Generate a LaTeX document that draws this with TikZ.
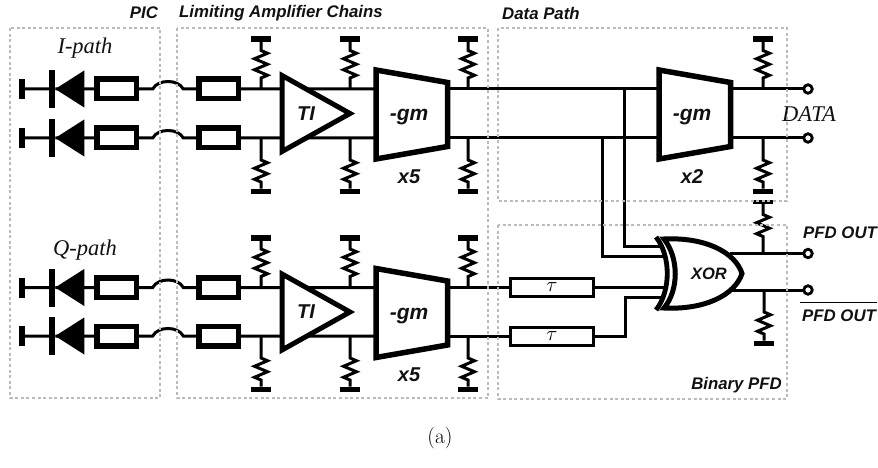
\documentclass[tikz,border=0pt]{standalone}
\usepackage{fontspec}
\usepackage{xcolor}
\usetikzlibrary{positioning,decorations.pathmorphing}
\newfontfamily\labelfont{Liberation Sans}
\newfontfamily\pathfont{Liberation Serif}
\definecolor{ZoneGray}{HTML}{BBBBBB}
\definecolor{TextBlack}{HTML}{111111}
\newcommand{\resup}[1]{%
  \node[railh, above=47pt of #1] (r#1) {};
  \draw[wire, resupz] (r#1) -- (#1);}
\newcommand{\resdn}[1]{%
  \node[railh, below=50.5pt of #1] (r#1) {};
  \draw[wire, resdnz] (r#1) -- (#1);}
\newcommand{\gmamp}[3]{%
  \draw[amp] (#1,#2) ++(0,-44.5) -- ++(71.5,12.5) -- ++(0,64) -- ++(-71.5,12.5) -- cycle;
  \node[gmtext] (#3) at ([shift={(33pt,-3pt)}]#1,#2) {-gm};}

\begin{document}
\begin{tikzpicture}[x=1pt, y=-1pt]
  \tikzstyle{wire} = [line width=3pt, draw=black]
  \tikzstyle{railv} = [rectangle, fill=black, inner sep=0pt, outer sep=0pt, minimum width=5.5pt, minimum height=20pt]
  \tikzstyle{railh} = [rectangle, fill=black, inner sep=0pt, outer sep=0pt, minimum width=20pt, minimum height=5.5pt]
  \tikzstyle{diobar} = [rectangle, fill=black, inner sep=0pt, outer sep=0pt, minimum width=6pt, minimum height=38pt]
  \tikzstyle{lens} = [rectangle, draw=black, fill=white, line width=5.5pt, inner sep=0pt, outer sep=0pt, minimum width=39.5pt, minimum height=19.5pt]
  \tikzstyle{delay} = [rectangle, draw=black, fill=white, line width=3pt, inner sep=0pt, outer sep=0pt, minimum width=83pt, minimum height=18pt, font=\fontsize{20.74}{20.74}\selectfont]
  \tikzstyle{port} = [circle, draw=black, fill=white, line width=2.8pt, inner sep=0pt, outer sep=0pt, minimum size=8.5pt]
  \tikzstyle{amp} = [draw=black, fill=white, line width=5.5pt]
  \tikzstyle{resupz} = [decorate, decoration={zigzag, segment length=11pt, amplitude=6.5pt, pre length=8.5pt, post length=11pt}]
  \tikzstyle{resdnz} = [decorate, decoration={zigzag, segment length=11pt, amplitude=6.5pt, pre length=6.5pt, post length=17pt}]
  \tikzstyle{zone} = [draw=ZoneGray, line width=1.3pt, dash pattern=on 3pt off 2.6pt]
  \tikzstyle{tag} = [inner sep=0pt, text=TextBlack, font=\labelfont\bfseries\itshape\fontsize{16.8}{16.8}\selectfont]
  \tikzstyle{gmtext} = [tag, font=\labelfont\bfseries\itshape\fontsize{21}{21}\selectfont]
  \tikzstyle{multext} = [tag, font=\labelfont\bfseries\itshape\fontsize{20}{20}\selectfont]
  \tikzstyle{pathtag} = [inner sep=0pt, text=TextBlack, font=\pathfont\itshape\fontsize{22.5}{22.5}\selectfont]

  \useasboundingbox (0,0) rectangle (878,468);

  \foreach \n/\y in {ia/89, ib/138, qa/287.5, qb/336} {
    \node[railv] (gnd\n) at (22,\y) {};
    \node[diobar, right=24.5pt of gnd\n] (dio\n) {};
    \node[lens, right=41.5pt of dio\n] (lensa\n) {};
    \node[lens, right=62.5pt of lensa\n] (lensb\n) {};
    \coordinate[right=16.5pt of lensa\n] (bl\n);
    \coordinate[left=15.5pt of lensb\n] (br\n);
    \coordinate (gmout\n) at (447,\y);
    \draw[wire] (gnd\n) -- (dio\n) -- (lensa\n) -- (bl\n) .. controls +(5,-10) and +(-5,-10) .. (br\n) -- (lensb\n) -- (gmout\n);
    \fill (dio\n.east) -- ++(29,-18.5) -- ++(0,37) -- cycle;
  }

  \foreach \n/\y in {ia/89, qa/287.5}
    \foreach \k/\x in {1/261, 2/350, 3/468} {
      \coordinate (j\k\n) at (\x,\y);
      \resup{j\k\n}
    }
  \foreach \n/\y in {ib/138, qb/336}
    \foreach \k/\x in {1/261, 2/350, 3/468} {
      \coordinate (j\k\n) at (\x,\y);
      \resdn{j\k\n}
    }

  \node[port] (outa) at (808,89) {};
  \node[port] (outb) at (808,138) {};
  \node[port] (outc) at (808,253.5) {};
  \node[port] (outd) at (808,290) {};
  \coordinate (dpina) at (659,89);
  \coordinate (dpinb) at (659,138);
  \coordinate (dpouta) at (731,89);
  \coordinate (dpoutb) at (731,138);
  \coordinate (tapa) at (624,89);
  \coordinate (tapb) at (602.5,138);
  \coordinate (xora) at (662,246.5);
  \coordinate (xorb) at (665,256.7);
  \coordinate (xorc) at (667,287.5);
  \coordinate (xord) at (662,297);
  \coordinate (bendd) at (625.7,336);
  \coordinate (xouta) at (730,253.5);
  \coordinate (xoutb) at (730,290);
  \coordinate (ja) at (763,89);
  \coordinate (jb) at (763,138);
  \coordinate (jc) at (763,253.5);
  \coordinate (jd) at (764,290);

  \node[delay] (taua) at (552,287.5) {$\tau$};
  \node[delay] (taub) at (552,336) {$\tau$};

  \draw[wire] (gmoutia) -- (dpina);
  \draw[wire] (gmoutib) -- (dpinb);
  \draw[wire] (dpouta) -- (outa);
  \draw[wire] (dpoutb) -- (outb);
  \draw[wire] (tapa) |- (xora);
  \draw[wire] (tapb) |- (xorb);
  \draw[wire] (gmoutqa) -- (taua);
  \draw[wire] (gmoutqb) -- (taub);
  \draw[wire] (taua) -- (xorc);
  \draw[wire] (taub) -- (bendd) |- (xord);
  \draw[wire] (xouta) -- (outc);
  \draw[wire] (xoutb) -- (outd);

  \resup{ja}
  \resdn{jb}
  \resdn{jd}
  \node[railh, above=50pt of jc, minimum height=4pt] (rjc) {};
  \draw[wire, decorate, decoration={zigzag, segment length=11pt, amplitude=6.5pt, pre length=11pt, post length=13.5pt}] (rjc) -- (jc);

  \foreach \p/\y in {i/113.5, q/312} {
    \draw[amp, line width=5pt] (282,\y) ++(0,-38) -- ++(68,38) -- ++(-68,38) -- cycle;
    \node[multext] (ti\p) at (306,\y) {TI};
    \gmamp{376}{\y+1}{gm\p}
    \node[multext, below=44pt of gm\p] (mul\p) {x5};
  }
  \gmamp{659}{114.5}{gmd}
  \node[multext, below=44pt of gmd] (muld) {x2};

  \draw[draw=black, line width=4.8pt] (656,237) .. controls (671,256) and (671,291) .. (656,310);
  \draw[draw=black, fill=white, line width=5pt] (664,239) .. controls (705,237) and (735,252) .. (742,273.5) .. controls (735,295) and (705,310) .. (664,308) .. controls (679,290) and (679,258) .. (664,239) -- cycle;
  \node[tag, font=\labelfont\bfseries\itshape\fontsize{16.5}{16.5}\selectfont] (xorname) at (709,274) {XOR};

  \draw[zone] (10,28) rectangle (160,398);
  \draw[zone] (177,28) rectangle (488,398);
  \draw[zone] (498,28) rectangle (787,201);
  \draw[zone] (498,225) rectangle (787,399);

  \node[tag] (picname) at (144,13) {PIC};
  \node[tag, anchor=west] (limname) at (179,13) {Limiting Amplifier Chains};
  \node[tag, anchor=west] (dpname) at (502,13) {Data Path};
  \node[tag, anchor=east] (pfdname) at (782,385) {Binary PFD};
  \node[tag, anchor=west] (pfda) at (803,233) {PFD OUT};
  \node[tag, anchor=west] (pfdb) at (802,316) {PFD OUT};
  \draw[draw=black, line width=1.5pt] ([shift={(-2pt,7.5pt)}]pfdb.north west) -- ([shift={(1pt,7.5pt)}]pfdb.north east);
  \node[pathtag] (ipath) at (85,48) {I-path};
  \node[pathtag] (qpath) at (85,250) {Q-path};
  \node[pathtag] (dataname) at (809,114) {DATA};
  \node[inner sep=0pt, font=\fontsize{21.5}{21.5}\selectfont] (caption) at (440,438) {(a)};
\end{tikzpicture}
\end{document}
